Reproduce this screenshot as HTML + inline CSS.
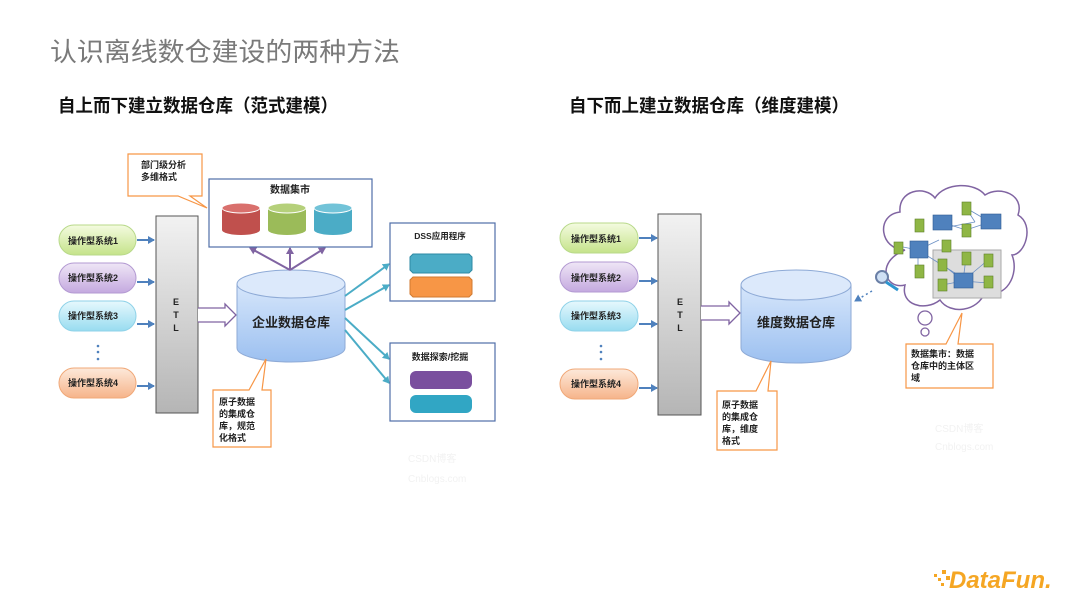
<!DOCTYPE html>
<html><head><meta charset="utf-8"><style>
html,body{margin:0;padding:0;background:#fff;}
svg{display:block;font-family:"Liberation Sans","Noto Sans CJK SC",sans-serif;}
</style></head><body>
<svg width="1080" height="608" viewBox="0 0 1080 608" xmlns="http://www.w3.org/2000/svg">
<defs>
<linearGradient id="g1" x1="0" y1="0" x2="0" y2="1"><stop offset="0" stop-color="#f4fbe0"/><stop offset="1" stop-color="#c5e38a"/></linearGradient>
<linearGradient id="g2" x1="0" y1="0" x2="0" y2="1"><stop offset="0" stop-color="#efe6f6"/><stop offset="1" stop-color="#c4a9df"/></linearGradient>
<linearGradient id="g3" x1="0" y1="0" x2="0" y2="1"><stop offset="0" stop-color="#e6f8fd"/><stop offset="1" stop-color="#98dcf0"/></linearGradient>
<linearGradient id="g4" x1="0" y1="0" x2="0" y2="1"><stop offset="0" stop-color="#fde9da"/><stop offset="1" stop-color="#f6b48a"/></linearGradient>
<linearGradient id="etl" x1="0" y1="0" x2="0" y2="1"><stop offset="0" stop-color="#f2f2f2"/><stop offset="1" stop-color="#b5b5b5"/></linearGradient>
<linearGradient id="cyl" x1="0" y1="0" x2="0" y2="1"><stop offset="0" stop-color="#d6e6fb"/><stop offset="1" stop-color="#9cc0f0"/></linearGradient>
<marker id="ab" markerWidth="8" markerHeight="8" refX="6" refY="4" orient="auto" markerUnits="userSpaceOnUse"><path d="M0,0 L7,4 L0,8 z" fill="#4f81bd"/></marker>
<marker id="ap" markerWidth="8" markerHeight="8" refX="6" refY="4" orient="auto" markerUnits="userSpaceOnUse"><path d="M0,0 L7,4 L0,8 z" fill="#8064a2"/></marker>
<marker id="at" markerWidth="8" markerHeight="8" refX="6" refY="4" orient="auto" markerUnits="userSpaceOnUse"><path d="M0,0 L7,4 L0,8 z" fill="#4bacc6"/></marker>
</defs>

<text x="50" y="61" font-size="26" fill="#7a7a7a" textLength="350" lengthAdjust="spacingAndGlyphs">认识离线数仓建设的两种方法</text>
<text x="58" y="112" font-size="18" font-weight="bold" fill="#111" textLength="280" lengthAdjust="spacingAndGlyphs">自上而下建立数据仓库（范式建模）</text>
<text x="569" y="112" font-size="18" font-weight="bold" fill="#111" textLength="280" lengthAdjust="spacingAndGlyphs">自下而上建立数据仓库（维度建模）</text>

<!-- LEFT DIAGRAM -->
<g font-size="9" font-weight="bold" fill="#222">
<rect x="59" y="225" width="77" height="30" rx="15" fill="url(#g1)" stroke="#b8d98a"/>
<text x="68" y="244">操作型系统1</text>
<rect x="59" y="263" width="77" height="30" rx="15" fill="url(#g2)" stroke="#b39ad2"/>
<text x="68" y="281">操作型系统2</text>
<rect x="59" y="301" width="77" height="30" rx="15" fill="url(#g3)" stroke="#8fd2e8"/>
<text x="68" y="319">操作型系统3</text>
<rect x="59" y="368" width="77" height="30" rx="15" fill="url(#g4)" stroke="#f0a878"/>
<text x="68" y="386">操作型系统4</text>
</g>
<g fill="#4f81bd"><circle cx="98" cy="346" r="1.3"/><circle cx="98" cy="352" r="1.3"/><circle cx="98" cy="359" r="1.3"/></g>
<g stroke="#4f81bd" stroke-width="2" marker-end="url(#ab)">
<line x1="137" y1="240" x2="154" y2="240"/><line x1="137" y1="282" x2="154" y2="282"/>
<line x1="137" y1="324" x2="154" y2="324"/><line x1="137" y1="386" x2="154" y2="386"/>
</g>
<rect x="156" y="216" width="42" height="197" fill="url(#etl)" stroke="#555"/>
<g font-size="9" font-weight="bold" fill="#222" text-anchor="middle"><text x="176" y="305">E</text><text x="176" y="318">T</text><text x="176" y="331">L</text></g>
<path d="M198,308 L225,308 L225,304 L236,315 L225,326 L225,322 L198,322" fill="#fff" stroke="#8064a2" stroke-width="1.3"/>

<path d="M237,284 L237,348 A54,14 0 0 0 345,348 L345,284" fill="url(#cyl)" stroke="#8eaad6"/>
<ellipse cx="291" cy="284" rx="54" ry="14" fill="#dce9fb" stroke="#8eaad6"/>
<text x="291" y="327" font-size="13" font-weight="bold" fill="#222" text-anchor="middle">企业数据仓库</text>

<g stroke="#8064a2" stroke-width="2" marker-end="url(#ap)">
<line x1="290" y1="270" x2="250" y2="248"/><line x1="290" y1="270" x2="290" y2="248"/><line x1="290" y1="270" x2="325" y2="248"/>
</g>
<rect x="209" y="179" width="163" height="68" fill="#fff" stroke="#4f6ea8" stroke-width="1.2"/>
<text x="290" y="193" font-size="10" font-weight="bold" text-anchor="middle" fill="#222">数据集市</text>
<g>
<path d="M222,208 L222,230 A19,5 0 0 0 260,230 L260,208" fill="#c0504d"/><ellipse cx="241" cy="208" rx="19" ry="5" fill="#d9706d" stroke="#fff"/>
<path d="M268,208 L268,230 A19,5 0 0 0 306,230 L306,208" fill="#9bbb59"/><ellipse cx="287" cy="208" rx="19" ry="5" fill="#b5d07a" stroke="#fff"/>
<path d="M314,208 L314,230 A19,5 0 0 0 352,230 L352,208" fill="#4bacc6"/><ellipse cx="333" cy="208" rx="19" ry="5" fill="#72c3d8" stroke="#fff"/>
</g>

<path d="M128,154 L202,154 L202,196 L190,196 L207,208 L178,196 L128,196 Z" fill="#fff" stroke="#f79646" stroke-width="1.2"/>
<text x="141" y="168" font-size="9" font-weight="bold" fill="#222">部门级分析</text>
<text x="141" y="180" font-size="9" font-weight="bold" fill="#222">多维格式</text>

<g stroke="#4bacc6" stroke-width="2" marker-end="url(#at)">
<line x1="345" y1="296" x2="389" y2="264"/><line x1="345" y1="310" x2="389" y2="285"/>
<line x1="345" y1="318" x2="389" y2="359"/><line x1="345" y1="330" x2="389" y2="383"/>
</g>
<rect x="390" y="223" width="105" height="78" fill="#fff" stroke="#4f6ea8" stroke-width="1.2"/>
<text x="440" y="239" font-size="8.5" font-weight="bold" text-anchor="middle" fill="#222">DSS应用程序</text>
<path d="M413,254 L469,254 L472,257 L472,270 L469,273 L413,273 L410,270 L410,257 Z" fill="#4bacc6" stroke="#2e8aa4"/>
<path d="M413,277 L469,277 L472,280 L472,294 L469,297 L413,297 L410,294 L410,280 Z" fill="#f79646" stroke="#d07a30"/>
<rect x="390" y="343" width="105" height="78" fill="#fff" stroke="#4f6ea8" stroke-width="1.2"/>
<text x="440" y="360" font-size="9" font-weight="bold" text-anchor="middle" fill="#222">数据探索/挖掘</text>
<rect x="410" y="371" width="62" height="18" rx="6" fill="#7a4f9e"/>
<rect x="410" y="395" width="62" height="18" rx="6" fill="#31a6c4"/>

<path d="M213,390 L249,390 L266,359 L262,390 L271,390 L271,447 L213,447 Z" fill="#fff" stroke="#f79646" stroke-width="1.2"/>
<g font-size="9" font-weight="bold" fill="#222">
<text x="219" y="405">原子数据</text><text x="219" y="417">的集成仓</text><text x="219" y="429">库，规范</text><text x="219" y="441">化格式</text>
</g>
<g font-size="10" fill="#f2f2f2"><text x="408" y="462">CSDN博客</text><text x="408" y="482">Cnblogs.com</text></g>

<!-- RIGHT DIAGRAM -->
<g font-size="9" font-weight="bold" fill="#222">
<rect x="560" y="223" width="78" height="30" rx="15" fill="url(#g1)" stroke="#b8d98a"/>
<text x="571" y="242">操作型系统1</text>
<rect x="560" y="262" width="78" height="30" rx="15" fill="url(#g2)" stroke="#b39ad2"/>
<text x="571" y="281">操作型系统2</text>
<rect x="560" y="301" width="78" height="30" rx="15" fill="url(#g3)" stroke="#8fd2e8"/>
<text x="571" y="319">操作型系统3</text>
<rect x="560" y="369" width="78" height="30" rx="15" fill="url(#g4)" stroke="#f0a878"/>
<text x="571" y="387">操作型系统4</text>
</g>
<g fill="#4f81bd"><circle cx="601" cy="346" r="1.3"/><circle cx="601" cy="352" r="1.3"/><circle cx="601" cy="359" r="1.3"/></g>
<g stroke="#4f81bd" stroke-width="2" marker-end="url(#ab)">
<line x1="639" y1="238" x2="657" y2="238"/><line x1="639" y1="281" x2="657" y2="281"/>
<line x1="639" y1="324" x2="657" y2="324"/><line x1="639" y1="388" x2="657" y2="388"/>
</g>
<rect x="658" y="214" width="43" height="201" fill="url(#etl)" stroke="#555"/>
<g font-size="9" font-weight="bold" fill="#222" text-anchor="middle"><text x="680" y="305">E</text><text x="680" y="318">T</text><text x="680" y="331">L</text></g>
<path d="M701,306 L729,306 L729,302 L740,313 L729,324 L729,320 L701,320" fill="#fff" stroke="#8064a2" stroke-width="1.3"/>

<path d="M741,285 L741,348 A55,15 0 0 0 851,348 L851,285" fill="url(#cyl)" stroke="#8eaad6"/>
<ellipse cx="796" cy="285" rx="55" ry="15" fill="#dce9fb" stroke="#8eaad6"/>
<text x="796" y="327" font-size="13" font-weight="bold" fill="#222" text-anchor="middle">维度数据仓库</text>

<!-- cloud -->
<path d="M905,250 C880,250 875,215 900,212 C898,190 925,185 935,198 C945,182 975,182 985,195 C1000,185 1025,195 1018,215 C1035,225 1025,255 1012,255 C1020,275 1005,300 985,292 C978,312 950,315 940,300 C925,312 900,305 905,285 C885,290 875,262 905,250 Z" fill="#fff" stroke="#8064a2" stroke-width="1.5"/>
<circle cx="925" cy="318" r="7" fill="#fff" stroke="#8064a2" stroke-width="1.3"/>
<circle cx="925" cy="332" r="4" fill="#fff" stroke="#8064a2" stroke-width="1.3"/>
<rect x="933" y="250" width="68" height="48" fill="#ddd" stroke="#aaa"/>
<g stroke="#6a8fc4" stroke-width="0.8">
<line x1="943" y1="228" x2="975" y2="222"/><line x1="966" y1="208" x2="975" y2="222"/><line x1="966" y1="208" x2="990" y2="222"/><line x1="966" y1="230" x2="990" y2="222"/><line x1="966" y1="230" x2="941" y2="222"/>
<line x1="918" y1="250" x2="898" y2="246"/><line x1="918" y1="250" x2="918" y2="272"/><line x1="918" y1="250" x2="939" y2="240"/><line x1="918" y1="250" x2="966" y2="280"/>
<line x1="963" y1="281" x2="942" y2="264"/><line x1="963" y1="281" x2="966" y2="258"/><line x1="963" y1="281" x2="988" y2="260"/><line x1="963" y1="281" x2="942" y2="285"/><line x1="963" y1="281" x2="988" y2="283"/>
</g>
<g fill="#4f81bd" stroke="#2f5a90" stroke-width="0.6">
<rect x="933" y="215" width="19" height="15"/><rect x="981" y="214" width="20" height="15"/><rect x="910" y="241" width="18" height="17"/><rect x="954" y="273" width="19" height="15"/>
</g>
<g fill="#8fb645" stroke="#5e7f2a" stroke-width="0.6">
<rect x="962" y="202" width="9" height="13"/><rect x="962" y="224" width="9" height="13"/><rect x="915" y="219" width="9" height="13"/><rect x="942" y="240" width="9" height="12"/>
<rect x="894" y="242" width="9" height="12"/><rect x="915" y="265" width="9" height="13"/><rect x="962" y="252" width="9" height="13"/><rect x="984" y="254" width="9" height="13"/>
<rect x="938" y="259" width="9" height="12"/><rect x="938" y="279" width="9" height="12"/><rect x="984" y="276" width="9" height="12"/>
</g>
<circle cx="882" cy="277" r="6" fill="#cfe0f4" stroke="#6a7fa6" stroke-width="2"/>
<line x1="886" y1="282" x2="898" y2="290" stroke="#2c95d0" stroke-width="3"/>
<line x1="872" y1="291" x2="855" y2="301" stroke="#4f81bd" stroke-width="1.5" stroke-dasharray="2,3" marker-end="url(#ab)"/>

<path d="M906,344 L946,344 L962,313 L958,344 L993,344 L993,388 L906,388 Z" fill="#fff" stroke="#f79646" stroke-width="1.2"/>
<g font-size="9" font-weight="bold" fill="#222">
<text x="911" y="357">数据集市：数据</text><text x="911" y="369">仓库中的主体区</text><text x="911" y="381">域</text>
</g>
<path d="M717,391 L756,391 L771,361 L768,391 L777,391 L777,450 L717,450 Z" fill="#fff" stroke="#f79646" stroke-width="1.2"/>
<g font-size="9" font-weight="bold" fill="#222">
<text x="722" y="408">原子数据</text><text x="722" y="420">的集成仓</text><text x="722" y="432">库，维度</text><text x="722" y="444">格式</text>
</g>
<g font-size="10" fill="#f2f2f2"><text x="935" y="432">CSDN博客</text><text x="935" y="450">Cnblogs.com</text></g>

<!-- logo -->
<g fill="#f5a623">
<rect x="934" y="574" width="3" height="3"/><rect x="938" y="578" width="3" height="3"/><rect x="942" y="570" width="4" height="4"/><rect x="946" y="576" width="4" height="4"/><rect x="941" y="583" width="3" height="3"/>
</g>
<text x="949" y="588" font-size="24" font-weight="bold" font-style="italic" fill="#f5a623">DataFun.</text>
</svg>
</body></html>
